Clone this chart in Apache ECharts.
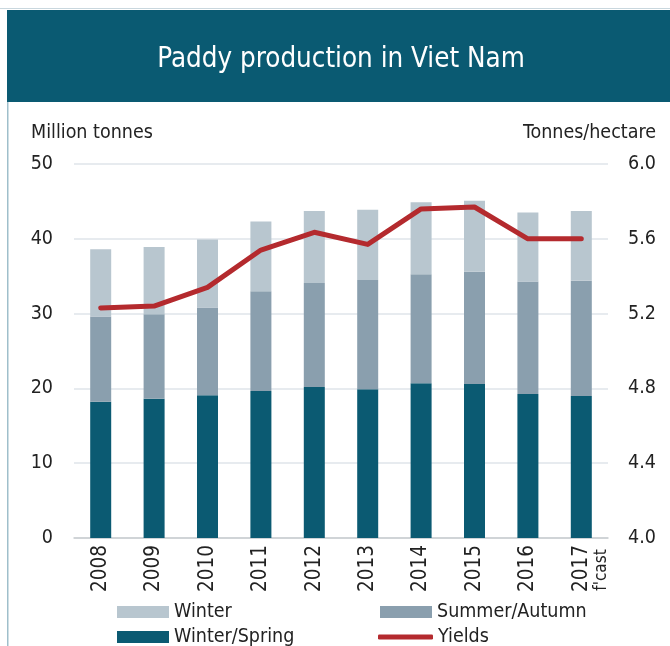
<!DOCTYPE html>
<html><head><meta charset="utf-8">
<script src="https://cdn.jsdelivr.net/npm/echarts@6/dist/echarts.min.js"></script>
<style>html,body{margin:0;padding:0;background:#fff}#c{width:670px;height:646px}</style>
</head><body><div id="c"></div>
<script>
const years = ['2008','2009','2010','2011','2012','2013','2014','2015','2016','2017'];
const winterSpring = [18.2, 18.6, 19.1, 19.65, 20.2, 19.9, 20.7, 20.6, 19.25, 19.0];
const summerAutumn = [11.4, 11.3, 11.7, 13.35, 13.9, 14.6, 14.55, 15.0, 15.05, 15.4];
const winter = [9.0, 9.0, 9.1, 9.3, 9.6, 9.4, 9.65, 9.5, 9.2, 9.3];
const yields = [5.23, 5.24, 5.34, 5.54, 5.635, 5.57, 5.76, 5.77, 5.60, 5.60];
const forecastNote = "f'cast";

const FONT = '"DejaVu Sans Condensed", "DejaVu Sans", sans-serif';
const NARROW = '"Liberation Sans Narrow", "DejaVu Sans Condensed", sans-serif';
const C_WS = '#0b5a72', C_SA = '#8a9fae', C_W = '#b8c6cf', C_Y = '#b42a2e';
const TXT = '#222';

const chart = echarts.init(document.getElementById('c'), null, {renderer: 'canvas'});
const legendBase = {selectedMode: false, itemGap: 0, padding: 0, textStyle: {fontFamily: FONT, fontSize: 19.5, color: TXT}};
chart.setOption({
  animation: false,
  backgroundColor: '#fff',
  grid: {left: 74, right: 62, top: 164, bottom: 108, containLabel: false},
  xAxis: {
    type: 'category', data: years,
    axisLine: {lineStyle: {color: '#c9cdd0', width: 1.5}},
    axisTick: {show: false},
    axisLabel: {rotate: 90, margin: 7, fontFamily: NARROW, fontSize: 20.5, color: TXT}
  },
  yAxis: [
    {type: 'value', min: 0, max: 50, interval: 10,
     axisLine: {show: false}, axisTick: {show: false},
     splitLine: {lineStyle: {color: '#dfe5ea', width: 1.5}},
     axisLabel: {margin: 21, fontFamily: FONT, fontSize: 19.5, color: TXT}},
    {type: 'value', min: 4.0, max: 6.0, interval: 0.4, position: 'right',
     axisLine: {show: false}, axisTick: {show: false}, splitLine: {show: false},
     axisLabel: {margin: 20, fontFamily: FONT, fontSize: 19.5, color: TXT,
                 formatter: v => v.toFixed(1)}}
  ],
  legend: [
    Object.assign({}, legendBase, {left: 117, top: 602, itemWidth: 52, itemHeight: 12, icon: 'rect', data: ['Winter']}),
    Object.assign({}, legendBase, {left: 380, top: 602, itemWidth: 52, itemHeight: 12, icon: 'rect', data: ['Summer/Autumn']}),
    Object.assign({}, legendBase, {left: 117, top: 627, itemWidth: 52, itemHeight: 12, icon: 'rect', data: ['Winter/Spring']}),
    Object.assign({}, legendBase, {left: 378, top: 627, itemWidth: 55, itemHeight: 5, icon: 'roundRect', data: ['Yields']})
  ],
  series: [
    {name: 'Winter/Spring', type: 'bar', stack: 'p', data: winterSpring, barWidth: 21, itemStyle: {color: C_WS}},
    {name: 'Summer/Autumn', type: 'bar', stack: 'p', data: summerAutumn, barWidth: 21, itemStyle: {color: C_SA}},
    {name: 'Winter', type: 'bar', stack: 'p', data: winter, barWidth: 21, itemStyle: {color: C_W}},
    {name: 'Yields', type: 'line', yAxisIndex: 1, data: yields, symbol: 'none', z: 5,
     itemStyle: {color: C_Y}, lineStyle: {color: C_Y, width: 5, cap: 'round', join: 'round'}}
  ]
});

const fx = chart.convertToPixel({xAxisIndex: 0}, '2017');
chart.setOption({
  graphic: [
    {type: 'rect', shape: {x: 0, y: 8, width: 670, height: 1}, style: {fill: '#c9d7de'}, silent: true},
    {type: 'rect', shape: {x: 7, y: 10, width: 663, height: 92}, style: {fill: '#0a5a72'}, silent: true},
    {type: 'rect', shape: {x: 7, y: 102, width: 1.5, height: 544}, style: {fill: '#9fbfcb'}, silent: true},
    {type: 'text', x: 341, y: 60, style: {text: 'Paddy production in Viet Nam', fill: '#fff', font: '27.5px ' + FONT, align: 'center', verticalAlign: 'middle'}},
    {type: 'text', x: 31, y: 133, style: {text: 'Million tonnes', fill: TXT, font: '19.5px ' + FONT, align: 'left', verticalAlign: 'middle'}},
    {type: 'text', x: 656, y: 133, style: {text: 'Tonnes/hectare', fill: TXT, font: '19.5px ' + FONT, align: 'right', verticalAlign: 'middle'}},
    {type: 'text', x: fx + 20, y: 570, rotation: Math.PI / 2, style: {text: forecastNote, fill: TXT, font: '17px ' + NARROW, align: 'center', verticalAlign: 'middle'}}
  ]
});
</script></body></html>
